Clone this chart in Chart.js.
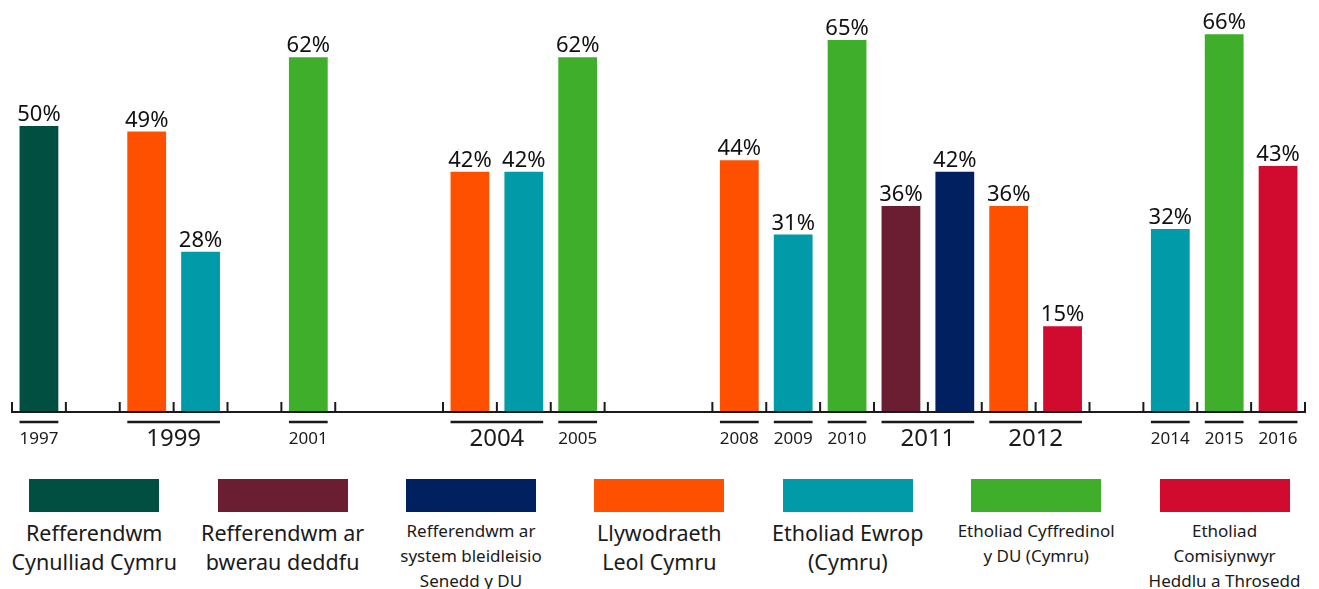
<!DOCTYPE html>
<html>
<head>
<meta charset="utf-8">
<script src="https://cdn.jsdelivr.net/npm/chart.js@4.4.1/dist/chart.umd.min.js"></script>
<style>
  body { margin: 0; background: #fff; font-family: "Noto Sans", sans-serif; color: #1a1a1a; }
  #wrap { position: relative; width: 1319px; height: 455px; }
  #legend { display: flex; width: 1319px; margin-top: 24px; }
  .item { width: 188.4px; text-align: center; white-space: nowrap; }
  .box { width: 130px; height: 33px; margin: 0 auto 6px; }
  .txt { font-size: 21.5px; line-height: 29px; }
  .txt.small { font-size: 17px; line-height: 25px; }
</style>
</head>
<body>
<div id="wrap"><canvas id="turnoutChart"></canvas></div>
<div id="legend"></div>
<script>
// one slot per bar position on the axis, empty strings are gaps
const years = ['1997', '', '1999', '1999', '', '2001', '', '', '2004', '2004', '2005', '', '',
  '2008', '2009', '2010', '2011', '2011', '2012', '2012', '', '2014', '2015', '2016'];
// index into elections for each slot
const electionType = [0, null, 3, 4, null, 5, null, null, 3, 4, 5, null, null,
  3, 4, 5, 1, 2, 3, 6, null, 4, 5, 6];
const turnout = [50, null, 49, 28, null, 62, null, null, 42, 42, 62, null, null,
  44, 31, 65, 36, 42, 36, 15, null, 32, 66, 43];

const elections = [
  ['Refferendwm', 'Cynulliad Cymru'],
  ['Refferendwm ar', 'bwerau deddfu'],
  ['Refferendwm ar', 'system bleidleisio', 'Senedd y DU'],
  ['Llywodraeth', 'Leol Cymru'],
  ['Etholiad Ewrop', '(Cymru)'],
  ['Etholiad Cyffredinol', 'y DU (Cymru)'],
  ['Etholiad', 'Comisiynwyr', 'Heddlu a Throsedd']
];
const colours = ['#004f40', '#6b1d32', '#00205f', '#ff5000', '#009aa8', '#3fae2b', '#d10b30'];
const smallLegend = [2, 5, 6];

// axis line, slot ticks, year underlines and labels
const yearAxis = {
  id: 'yearAxis',
  afterDraw(chart) {
    const ctx = chart.ctx;
    const x = chart.scales.x;
    const y0 = chart.scales.y.getPixelForValue(0);
    const half = (x.right - x.left) / years.length / 2;
    const bars = chart.getDatasetMeta(0).data;
    ctx.save();
    ctx.strokeStyle = '#1a1a1a';
    ctx.lineWidth = 2;
    ctx.beginPath();
    ctx.moveTo(x.left, y0);
    ctx.lineTo(x.right, y0);
    for (let i = 0; i <= years.length; i++) {
      const prev = i > 0 && turnout[i - 1] != null;
      const next = i < years.length && turnout[i] != null;
      if (!prev && !next) continue;
      const px = i < years.length ? x.getPixelForValue(i) - half : x.getPixelForValue(i - 1) + half;
      ctx.moveTo(px, y0 + 1);
      ctx.lineTo(px, y0 - 10);
    }
    ctx.stroke();

    // groups of consecutive slots with the same year
    let i = 0;
    while (i < years.length) {
      if (!years[i]) { i++; continue; }
      let j = i;
      while (j + 1 < years.length && years[j + 1] === years[i]) j++;
      const l = bars[i].x - bars[i].width / 2;
      const r = bars[j].x + bars[j].width / 2;
      ctx.lineWidth = 2.5;
      ctx.beginPath();
      ctx.moveTo(l, y0 + 10);
      ctx.lineTo(r, y0 + 10);
      ctx.stroke();
      ctx.fillStyle = '#1a1a1a';
      ctx.textAlign = 'center';
      ctx.textBaseline = 'middle';
      ctx.font = (j > i ? '24px' : '17px') + ' "Noto Sans", sans-serif';
      ctx.fillText(years[i], (l + r) / 2, y0 + 27);
      i = j + 1;
    }
    ctx.restore();
  }
};

// percentage above each bar
const valueLabels = {
  id: 'valueLabels',
  afterDatasetsDraw(chart) {
    const ctx = chart.ctx;
    ctx.save();
    ctx.fillStyle = '#111';
    ctx.font = '22px "Noto Sans", sans-serif';
    ctx.textAlign = 'center';
    ctx.textBaseline = 'alphabetic';
    chart.getDatasetMeta(0).data.forEach((bar, i) => {
      if (turnout[i] == null) return;
      ctx.fillText(turnout[i] + '%', bar.x, bar.y - 5);
    });
    ctx.restore();
  }
};

function renderChart() {
  const ctx = document.getElementById('turnoutChart').getContext('2d');
  new Chart(ctx, {
    type: 'bar',
    data: {
      labels: years,
      datasets: [{
        data: turnout,
        backgroundColor: electionType.map(t => t == null ? 'transparent' : colours[t]),
        categoryPercentage: 1,
        barPercentage: 0.72
      }]
    },
    options: {
      responsive: true,
      maintainAspectRatio: false,
      animation: false,
      layout: { padding: { left: 12, right: 14, top: 0, bottom: 43 } },
      plugins: { legend: { display: false }, tooltip: { enabled: false } },
      scales: {
        x: { display: false },
        y: { display: false, min: 0, max: 72 }
      }
    },
    plugins: [yearAxis, valueLabels]
  });

  const legend = document.getElementById('legend');
  elections.forEach((lines, i) => {
    const item = document.createElement('div');
    item.className = 'item';
    const box = document.createElement('div');
    box.className = 'box';
    box.style.background = colours[i];
    const txt = document.createElement('div');
    txt.className = 'txt' + (smallLegend.includes(i) ? ' small' : '');
    txt.innerHTML = lines.join('<br>');
    item.appendChild(box);
    item.appendChild(txt);
    legend.appendChild(item);
  });
}

document.addEventListener('DOMContentLoaded', renderChart);
</script>
</body>
</html>
